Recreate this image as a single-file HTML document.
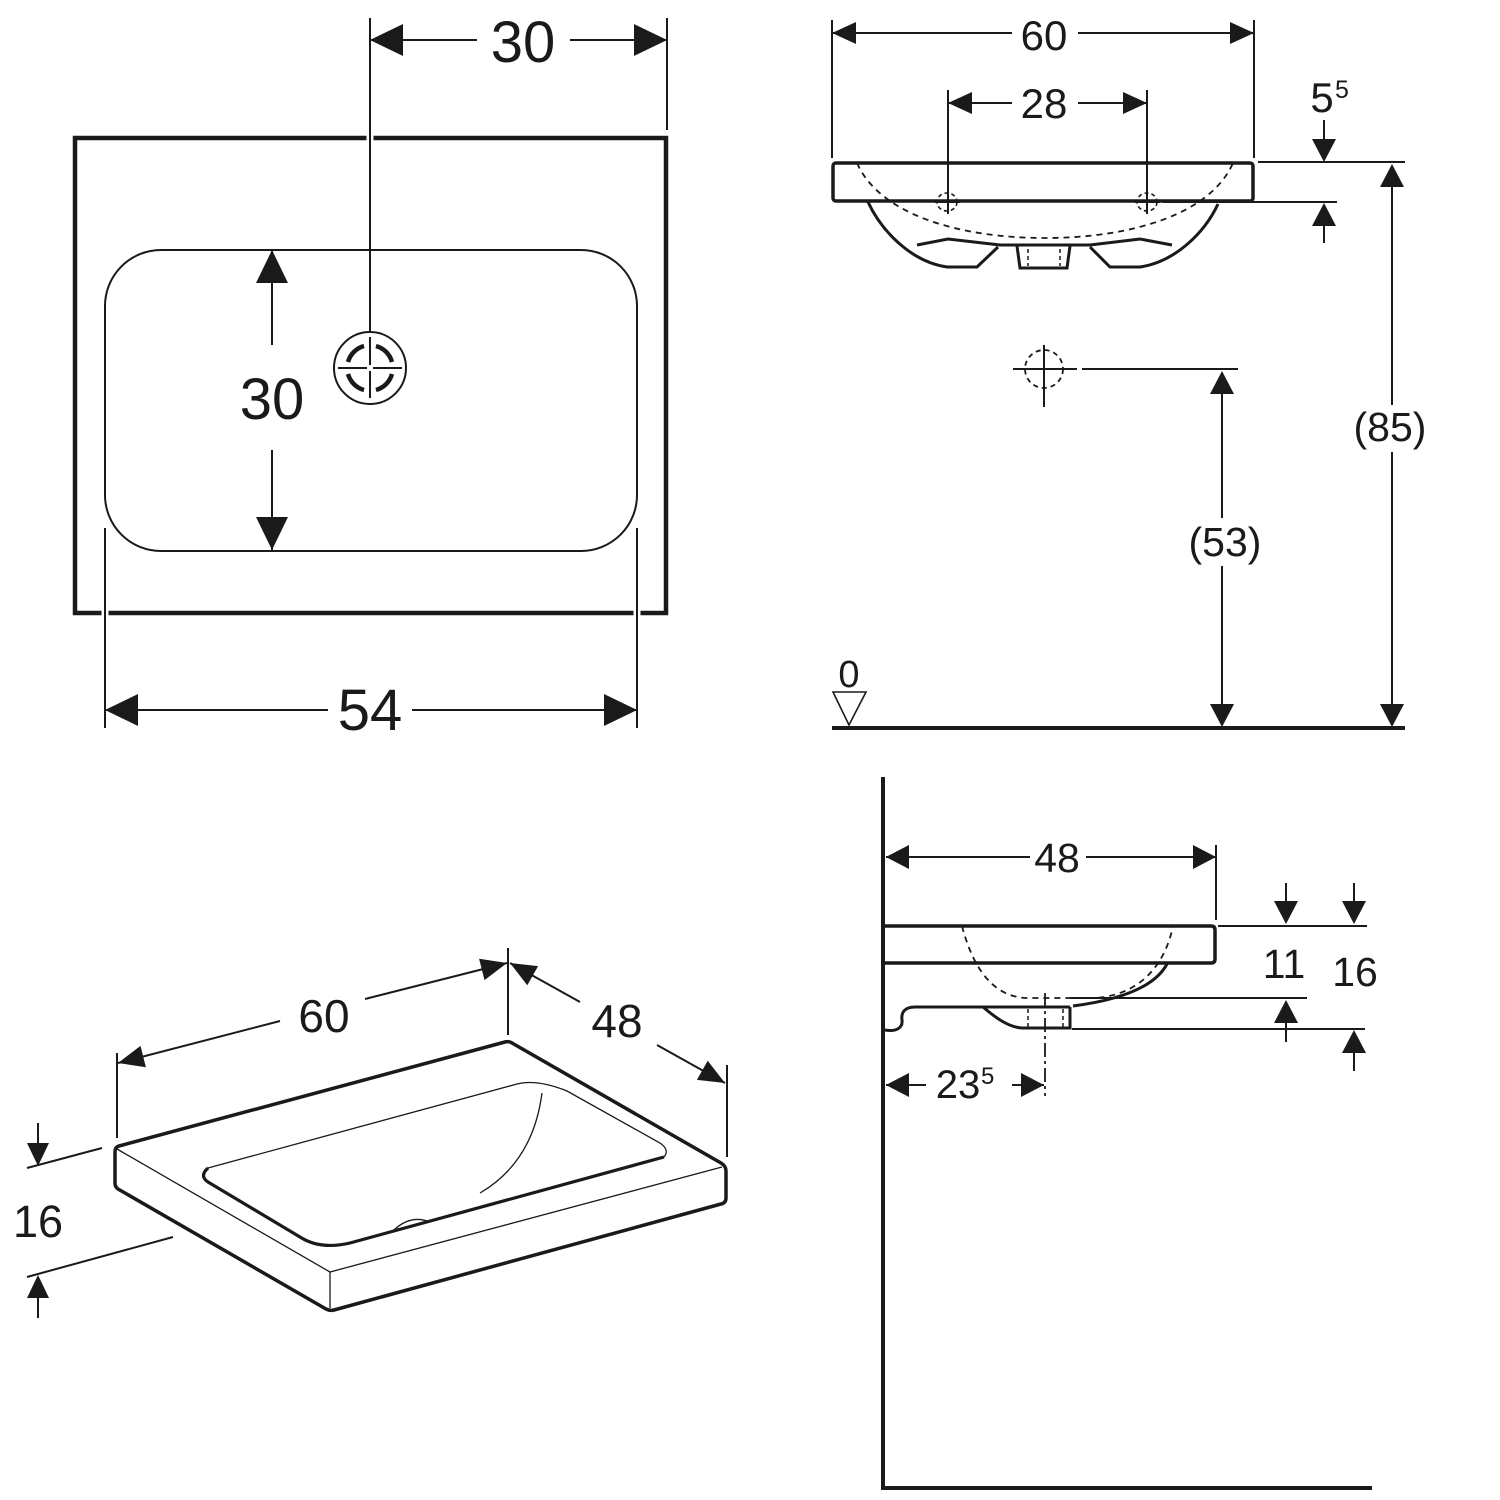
<!DOCTYPE html>
<html><head><meta charset="utf-8"><style>
html,body{margin:0;padding:0;background:#fff;}
svg{display:block;}
text{font-family:"Liberation Sans",Arial,sans-serif;fill:#1a1a1a;}
</style></head><body>
<svg width="1500" height="1500" viewBox="0 0 1500 1500" xmlns="http://www.w3.org/2000/svg">
<g stroke="#1a1a1a" fill="none" stroke-linecap="butt">

<!-- ========== TOP LEFT: plan view ========== -->
<rect x="75" y="138" width="591" height="475" stroke-width="4.5"/>
<g stroke="#fff" stroke-width="7">
<line x1="105" y1="609" x2="105" y2="617"/>
<line x1="637" y1="609" x2="637" y2="617"/>
<line x1="370" y1="134" x2="370" y2="142"/>
</g>
<rect x="105" y="250" width="532" height="301" rx="56" ry="56" stroke-width="2"/>
<g stroke-width="2">
<line x1="370" y1="18" x2="370" y2="331"/>
<line x1="667" y1="18" x2="667" y2="130"/>
<line x1="105" y1="528" x2="105" y2="728"/>
<line x1="637" y1="528" x2="637" y2="728"/>
<line x1="370" y1="40" x2="477" y2="40"/>
<line x1="570" y1="40" x2="667" y2="40"/>
<line x1="272" y1="250" x2="272" y2="345"/>
<line x1="272" y1="450" x2="272" y2="550"/>
<line x1="105" y1="710" x2="328" y2="710"/>
<line x1="412" y1="710" x2="637" y2="710"/>
</g>
<circle cx="370" cy="368" r="36" stroke-width="2"/>
<g stroke-width="4.5">
<path d="M348,362 A23,23 0 0 1 364,346"/>
<path d="M376,346 A23,23 0 0 1 392,362"/>
<path d="M392,374 A23,23 0 0 1 376,390"/>
<path d="M364,390 A23,23 0 0 1 348,374"/>
</g>
<g stroke-width="2">
<line x1="370" y1="337" x2="370" y2="365"/>
<line x1="370" y1="371" x2="370" y2="398"/>
<line x1="338" y1="368" x2="367" y2="368"/>
<line x1="373" y1="368" x2="402" y2="368"/>
</g>

<!-- ========== TOP RIGHT: front elevation ========== -->
<rect x="833" y="163" width="420" height="38" rx="3" stroke-width="3.5"/>
<path d="M857,163 C880,215 960,238 1045,238 C1130,238 1210,215 1233,163" stroke-width="1.8" stroke-dasharray="6,5"/>
<g stroke-width="3">
<path d="M868,202 C882,232 912,262 947,267 L977,267 L998,247"/>
<path d="M1218,204 C1204,234 1174,262 1140,267 L1110,267 L1090,247"/>
<path d="M1017,246 L1020,268 L1067,268 L1070,246"/>
<path d="M917,245 L948,239 L1000,245 L1090,245 L1140,239 L1172,245"/>
</g>
<g stroke-width="1.5" stroke-dasharray="4,3">
<line x1="1028" y1="249" x2="1028" y2="266"/>
<line x1="1060" y1="249" x2="1060" y2="266"/>
</g>
<g stroke-width="1.6" stroke-dasharray="4,3">
<ellipse cx="947" cy="202" rx="10" ry="9"/>
<ellipse cx="1147" cy="202" rx="10" ry="9"/>
</g>
<g stroke-width="2">
<line x1="948" y1="90" x2="948" y2="214"/>
<line x1="1147" y1="90" x2="1147" y2="214"/>
<line x1="935" y1="202" x2="960" y2="202"/>
<line x1="1135" y1="202" x2="1160" y2="202"/>
<line x1="832" y1="20" x2="832" y2="158"/>
<line x1="1254" y1="20" x2="1254" y2="158"/>
<line x1="832" y1="33" x2="1012" y2="33"/>
<line x1="1078" y1="33" x2="1254" y2="33"/>
<line x1="948" y1="103" x2="1012" y2="103"/>
<line x1="1078" y1="103" x2="1147" y2="103"/>
<line x1="1258" y1="162" x2="1405" y2="162"/>
<line x1="1163" y1="202" x2="1337" y2="202"/>
<line x1="1324" y1="120" x2="1324" y2="140"/>
<line x1="1324" y1="224" x2="1324" y2="243"/>
<line x1="1392" y1="185" x2="1392" y2="405"/>
<line x1="1392" y1="452" x2="1392" y2="706"/>
<line x1="1082" y1="369" x2="1238" y2="369"/>
<line x1="1222" y1="392" x2="1222" y2="518"/>
<line x1="1222" y1="566" x2="1222" y2="706"/>
<line x1="1044" y1="345" x2="1044" y2="407"/>
<line x1="1013" y1="369" x2="1077" y2="369"/>
</g>
<circle cx="1044" cy="369" r="19" stroke-width="1.8" stroke-dasharray="5,4"/>
<line x1="832" y1="728" x2="1405" y2="728" stroke-width="4"/>
<path d="M833,692 L866,692 L849,725 Z" stroke-width="1.6"/>

<!-- ========== BOTTOM RIGHT: side elevation ========== -->
<line x1="883" y1="777" x2="883" y2="1490" stroke-width="4"/>
<line x1="881" y1="1488" x2="1372" y2="1488" stroke-width="4"/>
<path d="M885,926 L1211,926 Q1215,926 1215,930 L1215,959 Q1215,963 1211,963 L885,963" stroke-width="3.5"/>
<path d="M962,926 C974,972 995,996 1025,998 L1095,998 C1140,995 1165,965 1173,926" stroke-width="1.8" stroke-dasharray="6,5"/>
<g stroke-width="3">
<path d="M1167,964 Q1150,996 1073,1006"/>
<path d="M885,1030 C896,1032 903,1028 902,1020 C901,1012 905,1007 915,1007 L1070,1007"/>
<path d="M983,1007 C996,1018 1008,1027 1022,1028 L1070,1028 L1070,1007"/>
</g>
<g stroke-width="1.5" stroke-dasharray="4,3">
<line x1="1028" y1="1009" x2="1028" y2="1027"/>
<line x1="1063" y1="1009" x2="1063" y2="1027"/>
</g>
<line x1="1045" y1="993" x2="1045" y2="1096" stroke-width="1.8" stroke-dasharray="14,4,3,4"/>
<g stroke-width="2">
<line x1="1216" y1="845" x2="1216" y2="920"/>
<line x1="886" y1="857" x2="1030" y2="857"/>
<line x1="1086" y1="857" x2="1216" y2="857"/>
<line x1="1218" y1="926" x2="1367" y2="926"/>
<line x1="1070" y1="998" x2="1307" y2="998"/>
<line x1="1072" y1="1029" x2="1365" y2="1029"/>
<line x1="1286" y1="883" x2="1286" y2="902"/>
<line x1="1286" y1="1022" x2="1286" y2="1042"/>
<line x1="1354" y1="883" x2="1354" y2="902"/>
<line x1="1354" y1="1052" x2="1354" y2="1071"/>
<line x1="886" y1="1085" x2="926" y2="1085"/>
<line x1="1012" y1="1085" x2="1044" y2="1085"/>
</g>

<!-- ========== BOTTOM LEFT: isometric ========== -->
<path d="M119,1146 L505,1042 Q509,1041 512,1043 L721,1163 Q726,1166 726,1171 L726,1198 Q726,1203 721,1204 L334,1310 Q330,1311 326,1309 L118,1189 Q115,1187 115,1183 L115,1152 Q115,1147 119,1146 Z" stroke-width="3.5" stroke-linejoin="round"/>
<g stroke-width="1.3">
<path d="M117,1149 L330,1272 L722,1167"/>
<line x1="330" y1="1272" x2="330" y2="1308"/>
<path d="M208,1168 L517,1084 Q537,1079 567,1091 L660,1143 Q670,1150 664,1157"/>
<path d="M542,1093 Q533,1162 480,1193"/>
<path d="M393,1231 Q410,1214 430,1222"/>
</g>
<path d="M664,1157 L350,1243 Q320,1250 300,1237 L208,1182 Q199,1176 208,1168" stroke-width="3.2"/>
<g stroke-width="2">
<line x1="117" y1="1053" x2="117" y2="1138"/>
<line x1="508" y1="948" x2="508" y2="1035"/>
<line x1="118" y1="1063" x2="280" y2="1021"/>
<line x1="365" y1="999" x2="507" y2="963"/>
<line x1="727" y1="1065" x2="727" y2="1157"/>
<line x1="510" y1="963" x2="580" y2="1002"/>
<line x1="657" y1="1045" x2="725" y2="1083"/>
<line x1="27" y1="1168" x2="102" y2="1148"/>
<line x1="27" y1="1277" x2="173" y2="1237"/>
<line x1="38" y1="1123" x2="38" y2="1145"/>
<line x1="38" y1="1296" x2="38" y2="1318"/>
</g>
</g>

<g fill="#1a1a1a" stroke="none">
<polygon points="370,40 403,24 403,56"/>
<polygon points="667,40 634,24 634,56"/>
<polygon points="272,250 256,283 288,283"/>
<polygon points="272,550 256,517 288,517"/>
<polygon points="105,710 138,694 138,726"/>
<polygon points="637,710 604,694 604,726"/>
<polygon points="832,33 856,22 856,44"/>
<polygon points="1254,33 1230,22 1230,44"/>
<polygon points="948,103 972,92 972,114"/>
<polygon points="1147,103 1123,92 1123,114"/>
<polygon points="1324,162 1312,139 1336,139"/>
<polygon points="1324,203 1312,226 1336,226"/>
<polygon points="1392,164 1380,187 1404,187"/>
<polygon points="1392,727 1380,704 1404,704"/>
<polygon points="1222,371 1210,394 1234,394"/>
<polygon points="1222,727 1210,704 1234,704"/>
<polygon points="886,857 909,845 909,869"/>
<polygon points="1216,857 1193,845 1193,869"/>
<polygon points="1286,924 1274,901 1298,901"/>
<polygon points="1286,1000 1274,1023 1298,1023"/>
<polygon points="1354,924 1342,901 1366,901"/>
<polygon points="1354,1030 1342,1053 1366,1053"/>
<polygon points="886,1085 909,1073 909,1097"/>
<polygon points="1044,1085 1021,1073 1021,1097"/>
<polygon points="118,1063 145.9,1067.2 140.5,1045.9"/>
<polygon points="507,963 484.5,980.1 479.1,958.8"/>
<polygon points="510,963 527.3,985.3 538.1,966.1"/>
<polygon points="725,1083 696.9,1079.9 707.7,1060.7"/>
<polygon points="38,1166 27,1143 49,1143"/>
<polygon points="38,1275 27,1298 49,1298"/>
</g>

<g text-anchor="middle">
<text x="523" y="62" font-size="58">30</text>
<text x="272" y="419" font-size="58">30</text>
<text x="370" y="730" font-size="58">54</text>
<text x="1044" y="50" font-size="42">60</text>
<text x="1044" y="118" font-size="42">28</text>
<text x="1390" y="441" font-size="41">(85)</text>
<text x="1225" y="556" font-size="41">(53)</text>
<text x="849" y="687" font-size="38">0</text>
<text x="1057" y="872" font-size="41">48</text>
<text x="1284" y="978" font-size="41">11</text>
<text x="1355" y="986" font-size="41">16</text>
<text x="324" y="1032" font-size="46">60</text>
<text x="617" y="1037" font-size="46">48</text>
<text x="38" y="1237" font-size="45">16</text>
</g>
<text x="1322" y="112" font-size="42" text-anchor="middle">5</text>
<text x="1335" y="98" font-size="25">5</text>
<text x="958" y="1098" font-size="40" text-anchor="middle">23</text>
<text x="981" y="1084" font-size="24">5</text>
</svg>
</body></html>
